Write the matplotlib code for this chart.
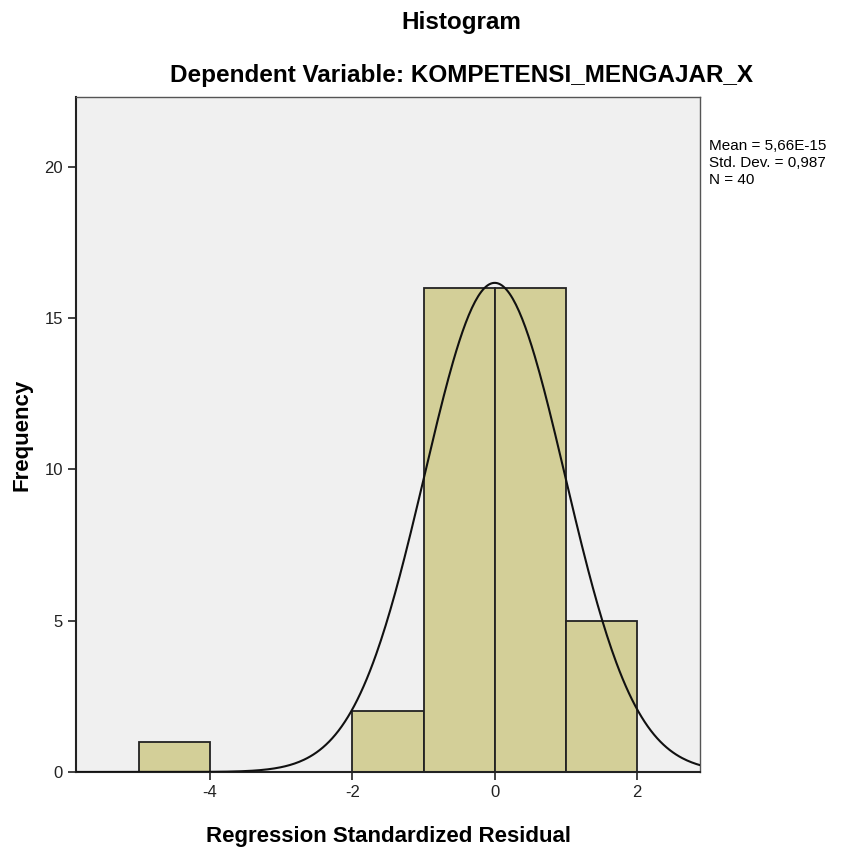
import numpy as np
import matplotlib.pyplot as plt

# histogram of residuals (SPSS style)
bin_edges = [-5, -4, -3, -2, -1, 0, 1, 2]
counts = [1, 0, 0, 2, 16, 16, 5]
res_mean = 5.66e-15
res_sd = 0.987
n_obs = 40
xticks = [-4, -2, 0, 2]
yticks = [0, 5, 10, 15, 20]

plt.rcParams['font.family'] = ['Liberation Sans', 'DejaVu Sans']
plt.rcParams['axes.unicode_minus'] = False

fig = plt.figure(figsize=(8.41, 8.55), dpi=100)
ax = fig.add_axes([0.0904, 0.0971, 0.742, 0.7894])
ax.set_facecolor('#f0f0f0')

left = np.array(bin_edges[:-1])
widths = np.diff(bin_edges)
cnt = np.array(counts)
m = cnt > 0
ax.bar(left[m], cnt[m], width=widths[m], align='edge', color='#d3cf98',
       edgecolor='#222222', linewidth=1.3, zorder=2)

# fitted normal curve scaled to counts
xs = np.linspace(-5.9, 2.9, 400)
binw = bin_edges[1] - bin_edges[0]
ys = n_obs * binw / (res_sd * np.sqrt(2 * np.pi)) * np.exp(-0.5 * ((xs - res_mean) / res_sd) ** 2)
ax.plot(xs, ys, color='#111111', linewidth=1.5, zorder=3)

ax.set_xlim(-5.883, 2.885)
ax.set_ylim(0, 22.31)
ax.set_xticks(xticks)
ax.set_yticks(yticks)
ax.tick_params(direction='out', length=6, width=1.2, colors='#222222', labelsize=12)

for s in ['left', 'bottom']:
    ax.spines[s].set_color('#222222')
    ax.spines[s].set_linewidth(1.5)
for s in ['top', 'right']:
    ax.spines[s].set_color('#555555')
    ax.spines[s].set_linewidth(1.0)

ax.set_xlabel('Regression Standardized Residual', fontsize=16, fontweight='bold')
ax.xaxis.set_label_coords(0.5, -0.08)
ax.set_ylabel('Frequency', fontsize=16, fontweight='bold')
ax.yaxis.set_label_coords(-0.07, 0.5)

fig.text(0.549, 0.974, 'Histogram', ha='center', va='center', fontsize=17.5, fontweight='bold')
fig.text(0.549, 0.912, 'Dependent Variable: KOMPETENSI_MENGAJAR_X', ha='center', va='center',
         fontsize=17.5, fontweight='bold')

stats = 'Mean = 5,66E-15\nStd. Dev. = 0,987\nN = 40'
fig.text(0.843, 0.838, stats, ha='left', va='top', fontsize=11, linespacing=1.3)

fig.savefig('out.png', dpi=100, facecolor='white')
